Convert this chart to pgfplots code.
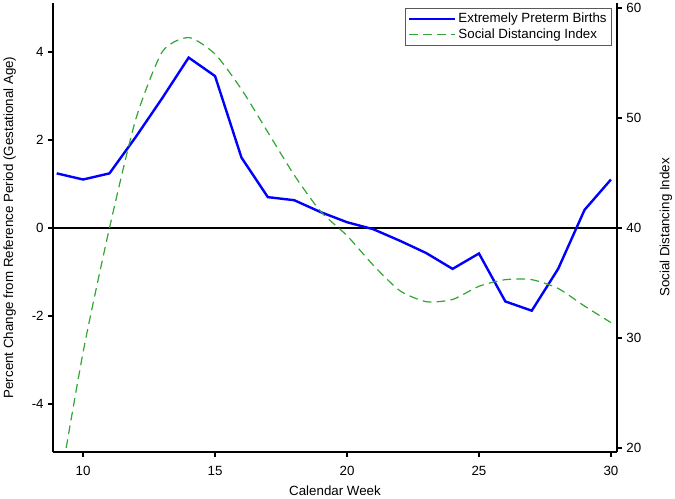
\documentclass[border=0pt]{standalone}
\usepackage{pgfplots}
\pgfplotsset{compat=1.18}
\usepackage{fontspec}
\setmainfont{Liberation Sans}
\definecolor{sdigreen}{RGB}{50,165,50}

\pgfplotstableread{
week pct
9  1.24
10 1.10
11 1.24
12 2.07
13 2.95
14 3.87
15 3.45
16 1.60
17 0.70
18 0.63
19 0.36
20 0.13
21 -0.03
22 -0.29
23 -0.57
24 -0.93
25 -0.58
26 -1.67
27 -1.88
28 -0.93
29 0.41
30 1.10
}\ptbdata

\pgfplotstableread{
week sdi
9  15.0
10 28.7
11 40.0
12 49.9
13 56.0
14 57.3
15 55.8
16 52.6
17 48.7
18 44.8
19 41.5
20 39.3
21 36.6
22 34.3
23 33.3
24 33.5
25 34.7
26 35.3
27 35.3
28 34.5
29 32.9
30 31.4
}\sdidata

\begin{document}
\begin{tikzpicture}
\pgfplotsset{
  common/.style={
    scale only axis, width=423pt, height=336.75pt,
    xmin=8.86, xmax=30.23,
    font=\fontsize{10}{12}\selectfont,
    tick align=outside, major tick length=3.5pt,
    every tick/.style={black, line width=1pt},
    axis line style={line width=1.4pt},
    clip=true,
  }
}
\begin{axis}[common,
  axis x line*=bottom, axis y line*=left,
  ymin=-5.09, ymax=5.11,
  xtick={10,15,20,25,30}, xticklabels={10,15,20,25,30},
  ytick={-4,-2,0,2,4}, yticklabels={-4,-2,0,2,4},
  xticklabel style={yshift=-3.5pt},
  xlabel={Calendar Week},
  ylabel={Percent Change from Reference Period (Gestational Age)},
  xlabel style={yshift=-1pt},
  ylabel style={yshift=5pt},
]
\addplot[black, line width=1.5pt, forget plot] coordinates {(8.86,0) (30.23,0)};
\addplot[blue, line width=1.8pt] table[x=week, y=pct] {\ptbdata};
\end{axis}
\begin{axis}[common,
  axis x line=none, axis y line*=right,
  ymin=19.64, ymax=60.44,
  ytick={20,30,40,50,60}, yticklabels={20,30,40,50,60},
  ylabel={Social Distancing Index},
  ylabel style={yshift=-7pt},
  legend style={at={(0.991,0.989)}, anchor=north east, draw=black!65,
    line width=0.9pt, font=\fontsize{10}{12}\selectfont, inner sep=1.5pt,
    row sep=-1pt, cells={anchor=west}},
  legend cell align=left,
  legend image post style={xscale=2},
]
\addlegendimage{blue, line width=1.8pt}
\addlegendentry{Extremely Preterm Births}
\addplot[sdigreen, line width=0.9pt, dash pattern=on 6.5pt off 4pt, smooth, tension=0.4] table[x=week, y=sdi] {\sdidata};
\addlegendentry{Social Distancing Index}
\end{axis}
\pgfresetboundingbox
\path[use as bounding box] ([xshift=-39.75pt, yshift=-35.25pt]current axis.south west)
  rectangle ([xshift=43.5pt, yshift=2.25pt]current axis.north east);
\end{tikzpicture}
\end{document}
